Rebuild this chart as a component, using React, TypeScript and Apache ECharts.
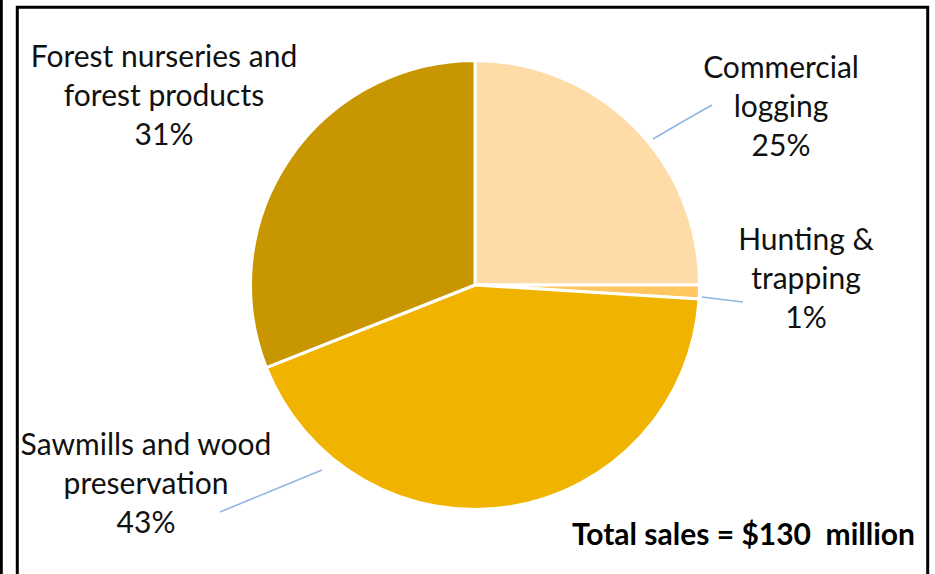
import React, { useEffect, useRef } from "react";
import * as echarts from "echarts";

const categories = [
  "Commercial logging",
  "Hunting & trapping",
  "Sawmills and wood preservation",
  "Forest nurseries and forest products",
];
const wrappedNames = [
  "Commercial\nlogging",
  "Hunting &\ntrapping",
  "Sawmills and wood\npreservation",
  "Forest nurseries and\nforest products",
];
const shares = [25, 1, 43, 31];
const colors = ["#FFDBA8", "#FFC660", "#F0B400", "#C89600"];
const totalText = "Total sales = $130  million";

// label layout (positions only)
const labelLayouts = [
  { x: 781, y: 105, line: [[653, 139], [682, 122], [712, 105]] },
  { x: 806, y: 277, line: [[702, 297], [722, 299.5], [743, 302]] },
  { x: 146, y: 482, line: [[322, 470], [271, 491], [220, 512]] },
  { x: 164, y: 94, line: null },
];

const FONT = "Lato, 'Open Sans', sans-serif";

export default function App() {
  const ref = useRef<HTMLDivElement>(null);
  useEffect(() => {
    if (!ref.current) return;
    const chart = echarts.init(ref.current, undefined, { renderer: "svg" });
    chart.setOption({
      animation: false,
      backgroundColor: "#ffffff",
      graphic: [
        {
          type: "rect",
          shape: { x: 1.3, y: -5, width: 0, height: 600 },
          style: { fill: "none", stroke: "#000", lineWidth: 3 },
        },
        {
          type: "rect",
          shape: { x: 17.3, y: 7.3, width: 910.4, height: 620 },
          style: { fill: "none", stroke: "#000", lineWidth: 3 },
        },
        {
          type: "text",
          right: 935 - 915,
          top: 518,
          style: {
            text: totalText,
            font: `bold 30px ${FONT}`,
            fill: "#000",
          },
        },
      ],
      series: [
        {
          type: "pie",
          center: [475, 285],
          radius: 224.5,
          startAngle: 90,
          clockwise: true,
          itemStyle: { borderColor: "#fff", borderWidth: 3 },
          label: {
            show: true,
            position: "outside",
            formatter: (p: any) => `${wrappedNames[p.dataIndex]}\n${p.percent}%`,
            fontFamily: FONT,
            fontSize: 30,
            lineHeight: 39,
            color: "#111",
            align: "center",
            overflow: "none",
          },
          labelLine: {
            show: true,
            lineStyle: { color: "#8FB6E0", width: 1.5 },
          },
          labelLayout: (params: any) => {
            const L = labelLayouts[params.dataIndex];
            const out: any = {
              x: L.x,
              y: L.y,
              align: "center",
              verticalAlign: "middle",
              width: 400,
            };
            if (L.line) out.labelLinePoints = L.line;
            return out;
          },
          data: categories.map((name, i) => ({
            name,
            value: shares[i],
            itemStyle: { color: colors[i] },
            labelLine: { show: !!labelLayouts[i].line },
          })),
        },
      ],
    });
    return () => chart.dispose();
  }, []);
  return (
    <div
      ref={ref}
      style={{ position: "absolute", left: 0, top: 0, width: 935, height: 574 }}
    />
  );
}
